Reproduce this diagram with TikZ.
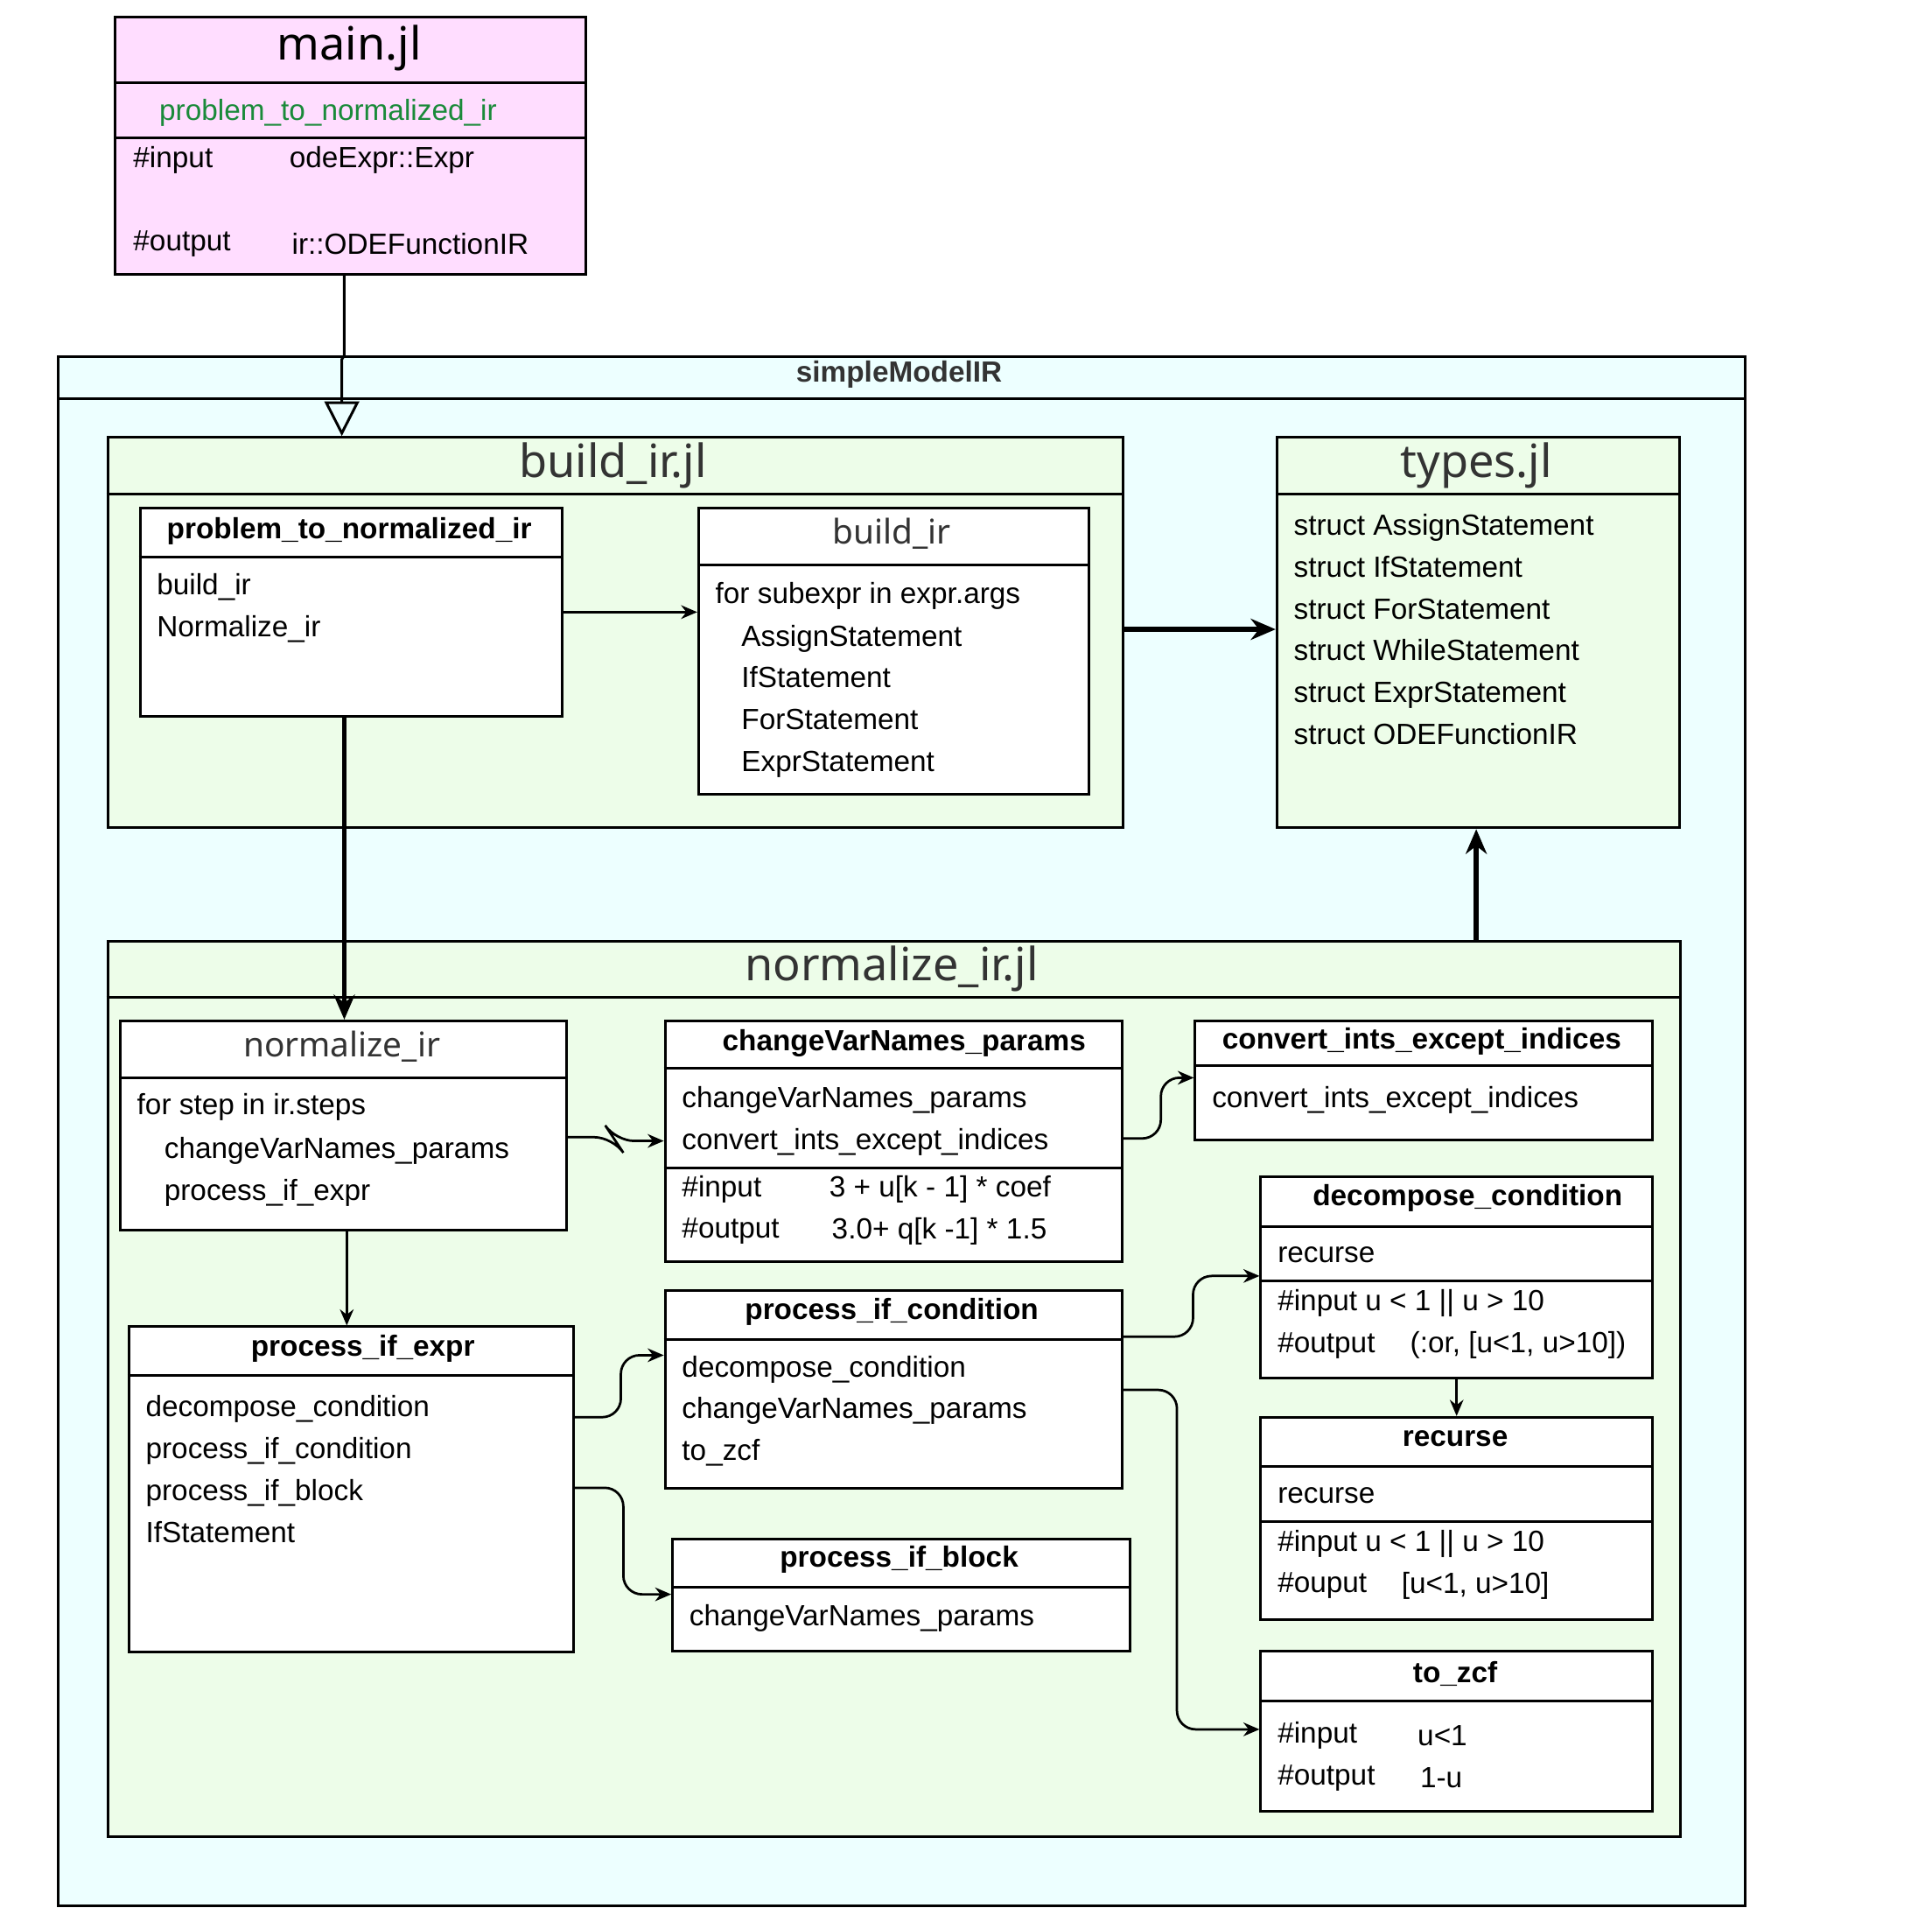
\documentclass[tikz,border=0pt]{standalone}
\usepackage{fontspec}
\setmainfont{Liberation Sans}
\newfontfamily\titlefont{Noto Sans}
\usetikzlibrary{arrows.meta,calc}
\definecolor{pinkbg}{HTML}{FFDDFF}
\definecolor{cyanbg}{HTML}{EDFFFF}
\definecolor{greenbg}{HTML}{EDFDE9}
\definecolor{titlegray}{HTML}{333333}
\definecolor{fngreen}{HTML}{1A8A3A}
\tikzset{
  box/.style={draw, line width=0.6pt, anchor=north west, inner sep=0, fill=white},
  txt/.style={font=\fontsize{6.7}{9.6}\selectfont, inner sep=0, anchor=west, align=left},
  head/.style={font=\fontsize{6.7}{8}\selectfont\bfseries, inner sep=0},
  bighead/.style={font=\titlefont\fontsize{10.5}{12}\selectfont, text=titlegray, inner sep=0},
  midhead/.style={font=\titlefont\fontsize{7.8}{9}\selectfont\bfseries, text=titlegray, inner sep=0},
  thin/.style={-{Stealth[length=0.13cm,width=0.11cm]}, line width=0.55pt, rounded corners=0.15cm},
  thick/.style={-{Stealth[length=0.2cm,width=0.17cm]}, line width=1.1pt}
}
\begin{document}
\begin{tikzpicture}[x=0.01cm,y=-0.01cm]
\useasboundingbox (0,0) rectangle (1560,1557);
% outer package
\node[box, fill=cyanbg, minimum width=13.61cm, minimum height=12.50cm] (pkg) at (46,287) {};
\draw[line width=0.6pt] (pkg.west |- 0,322) -- (pkg.east |- 0,322);
\node[head, text=titlegray] at (726,302) {simpleModelIR};
% main.jl
\node[box, fill=pinkbg, minimum width=3.80cm, minimum height=2.07cm] (main) at (92,13) {};
\draw[line width=0.6pt] (main.west |- 0,67) -- (main.east |- 0,67);
\draw[line width=0.6pt] (main.west |- 0,111) -- (main.east |- 0,111);
\node[bighead, text=black, font=\titlefont\fontsize{10.5}{12}\selectfont\bfseries] at (282,39) {main.jl};
\node[txt, text=fngreen] at (128,91) {problem\_to\_normalized\_ir};
\node[txt] at (107,129) {\#input};
\node[txt] at (233,129) {odeExpr::Expr};
\node[txt] at (107,197) {\#output};
\node[txt] at (235,197) {ir::ODEFunctionIR};
% build_ir.jl
\node[box, fill=greenbg, minimum width=8.19cm, minimum height=3.15cm] (bjl) at (86,352) {};
\draw[line width=0.6pt] (bjl.west |- 0,399) -- (bjl.east |- 0,399);
\node[bighead] at (495,376) {build\_ir.jl};
\node[box, minimum width=3.41cm, minimum height=1.68cm] (prob) at (112,409) {};
\draw[line width=0.6pt] (prob.west |- 0,450) -- (prob.east |- 0,450);
\node[head] at (282,429) {problem\_to\_normalized\_ir};
\node[txt] at (126,491) {build\_ir\\Normalize\_ir};
\node[box, minimum width=3.15cm, minimum height=2.31cm] (bir) at (563,409) {};
\draw[line width=0.6pt] (bir.west |- 0,456) -- (bir.east |- 0,456);
\node[midhead] at (720,431) {build\_ir};
\node[txt] at (577,481) {for subexpr in expr.args};
\node[txt] at (598,566) {AssignStatement\\IfStatement\\ForStatement\\ExprStatement};
% types.jl
\node[box, fill=greenbg, minimum width=3.25cm, minimum height=3.15cm] (types) at (1030,352) {};
\draw[line width=0.6pt] (types.west |- 0,399) -- (types.east |- 0,399);
\node[bighead] at (1192,376) {types.jl};
\node[txt] at (1044,508) {struct AssignStatement\\struct IfStatement\\struct ForStatement\\struct WhileStatement\\struct ExprStatement\\struct ODEFunctionIR};
% normalize_ir.jl
\node[box, fill=greenbg, minimum width=12.69cm, minimum height=7.22cm] (njl) at (86,759) {};
\draw[line width=0.6pt] (njl.west |- 0,805) -- (njl.east |- 0,805);
\node[bighead] at (720,782) {normalize\_ir.jl};
\node[box, minimum width=3.60cm, minimum height=1.69cm] (nir) at (96,823) {};
\draw[line width=0.6pt] (nir.west |- 0,870) -- (nir.east |- 0,870);
\node[midhead] at (276,845) {normalize\_ir};
\node[txt] at (110,894) {for step in ir.steps};
\node[txt] at (132,946) {changeVarNames\_params\\process\_if\_expr};
\node[box, minimum width=3.69cm, minimum height=1.94cm] (cvn) at (536,823) {};
\draw[line width=0.6pt] (cvn.west |- 0,862) -- (cvn.east |- 0,862);
\draw[line width=0.6pt] (cvn.west |- 0,943) -- (cvn.east |- 0,943);
\node[head] at (730,842) {changeVarNames\_params};
\node[txt] at (550,905) {changeVarNames\_params\\convert\_ints\_except\_indices};
\node[txt] at (550,960) {\#input};
\node[txt] at (669,960) {3 + u[k - 1] * coef};
\node[txt] at (550,994) {\#output};
\node[txt] at (671,994) {3.0+ q[k -1] * 1.5};
\node[box, minimum width=3.69cm, minimum height=0.96cm] (cie) at (964,823) {};
\draw[line width=0.6pt] (cie.west |- 0,860) -- (cie.east |- 0,860);
\node[head] at (1148,841) {convert\_ints\_except\_indices};
\node[txt] at (978,888) {convert\_ints\_except\_indices};
\node[box, minimum width=3.16cm, minimum height=1.62cm] (dec) at (1017,949) {};
\draw[line width=0.6pt] (dec.west |- 0,990) -- (dec.east |- 0,990);
\draw[line width=0.6pt] (dec.west |- 0,1034) -- (dec.east |- 0,1034);
\node[head] at (1185,967) {decompose\_condition};
\node[txt] at (1031,1013) {recurse};
\node[txt] at (1031,1052) {\#input u < 1 || u > 10};
\node[txt] at (1031,1086) {\#output};
\node[txt] at (1138,1086) {(:or, [u<1, u>10])};
\node[box, minimum width=3.16cm, minimum height=1.63cm] (rec) at (1017,1143) {};
\draw[line width=0.6pt] (rec.west |- 0,1184) -- (rec.east |- 0,1184);
\draw[line width=0.6pt] (rec.west |- 0,1228) -- (rec.east |- 0,1228);
\node[head] at (1175,1161) {recurse};
\node[txt] at (1031,1207) {recurse};
\node[txt] at (1031,1246) {\#input u < 1 || u > 10};
\node[txt] at (1031,1280) {\#ouput};
\node[txt] at (1131,1280) {[u<1, u>10]};
\node[box, minimum width=3.16cm, minimum height=1.29cm] (zcf) at (1017,1332) {};
\draw[line width=0.6pt] (zcf.west |- 0,1373) -- (zcf.east |- 0,1373);
\node[head] at (1175,1351) {to\_zcf};
\node[txt] at (1031,1401) {\#input};
\node[txt] at (1144,1401) {u<1};
\node[txt] at (1031,1435) {\#output};
\node[txt] at (1146,1435) {1-u};
\node[box, minimum width=3.69cm, minimum height=1.59cm] (pic) at (536,1041) {};
\draw[line width=0.6pt] (pic.west |- 0,1081) -- (pic.east |- 0,1081);
\node[head] at (720,1059) {process\_if\_condition};
\node[txt] at (550,1139) {decompose\_condition\\changeVarNames\_params\\to\_zcf};
\node[box, minimum width=3.59cm, minimum height=2.62cm] (pie) at (103,1070) {};
\draw[line width=0.6pt] (pie.west |- 0,1110) -- (pie.east |- 0,1110);
\node[head] at (293,1089) {process\_if\_expr};
\node[txt] at (117,1186) {decompose\_condition\\process\_if\_condition\\process\_if\_block\\IfStatement};
\node[box, minimum width=3.69cm, minimum height=0.91cm] (pib) at (542,1241) {};
\draw[line width=0.6pt] (pib.west |- 0,1281) -- (pib.east |- 0,1281);
\node[head] at (726,1259) {process\_if\_block};
\node[txt] at (556,1306) {changeVarNames\_params};
% connectors
\draw[-{Triangle[open,length=0.28cm,width=0.28cm]}, line width=0.6pt] (main.south -| 278,0) -- (278,287) -- (276,290) -- (276,352);
\draw[thin] (prob.east) -- (bir.west |- prob.east);
\draw[thick] (bjl.east |- 0,508) -- (types.west |- 0,508);
\draw[thick] (prob.south -| 278,0) -- (nir.north -| 278,0);
\draw[thick] (njl.north -| 1192,0) -- (types.south -| 1192,0);
\draw[thin] (nir.east |- 0,918) -- (495,918) -- (497,921) -- (cvn.west |- 0,921);
\draw[thin] (cvn.east |- 0,919) -- ++(30,0) |- (cie.west |- 0,870);
\draw[thin] (nir.south -| 280,0) -- (pie.north -| 280,0);
\draw[thin] (pie.east |- 0,1144) -- ++(37,0) |- (pic.west |- 0,1094);
\draw[thin] (pie.east |- 0,1201) -- ++(39,0) |- (pib.west |- 0,1287);
\draw[thin] (pic.east |- 0,1079) -- ++(56,0) |- (dec.west |- 0,1030);
\draw[thin] (pic.east |- 0,1122) -- ++(43,0) |- (zcf.west |- 0,1396);
\draw[thin] (dec.south) -- (rec.north);
\end{tikzpicture}
\end{document}
